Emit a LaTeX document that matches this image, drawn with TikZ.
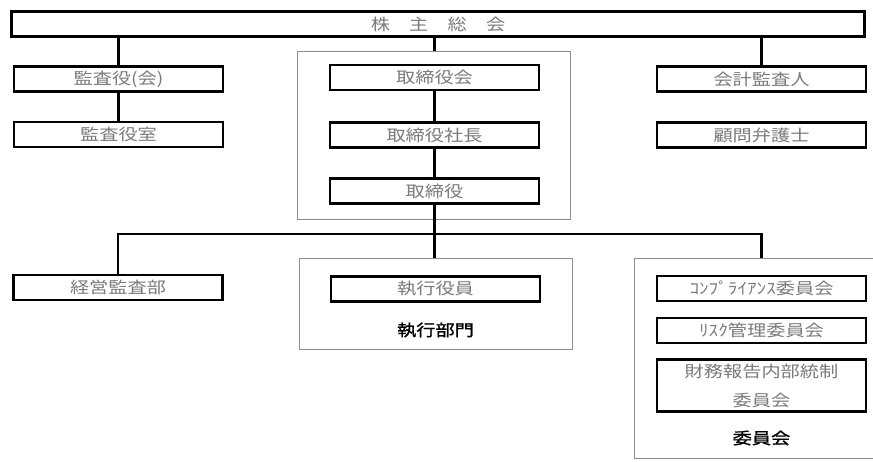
\documentclass[tikz,border=0pt]{standalone}
\usepackage{fontspec}
\newfontfamily\cjk[FakeStretch=1.2]{Noto Sans CJK JP}
\newfontfamily\cjkbold[FakeStretch=1.2,FakeBold=1.2]{Noto Sans CJK JP}
\tikzset{
  box/.style={draw=black, line width=2.6pt, fill=white, minimum width=209pt,
    minimum height=25pt, inner sep=0pt, text=black!52,
    font=\cjk\fontsize{16}{29}\selectfont},
  framebox/.style={draw=black!45, line width=0.8pt, inner sep=0pt},
  conn/.style={draw=black, line width=2.6pt},
  lbl/.style={text=black, inner sep=0pt, font=\cjkbold\fontsize{16}{20}\selectfont},
}
\begin{document}
\begin{tikzpicture}[x=1pt,y=-1pt]
\useasboundingbox (0,0) rectangle (873,461);
% frames
\node[framebox, minimum width=273pt, minimum height=168pt] (fyaku) at (433.5,135) {};
\node[framebox, minimum width=273pt, minimum height=91pt] (fshikko) at (435.5,303.5) {};
\coordinate (ctl) at (634,258);
\coordinate (ctr) at (873,258);
\coordinate (cbl) at (634,458);
\coordinate (cbr) at (873,458);
\draw[draw=black!45, line width=0.8pt] (ctr) -- (ctl) -- (cbl) -- (cbr);
% boxes
\node[box, minimum width=853pt] (kabu) at (438,24) {株　主　総　会};
\node[box] (kansa) at (118.5,79) {監査役(会)};
\node[box] (kansashitsu) at (118.5,134.5) {監査役室};
\node[box] (tkai) at (434.5,77.5) {取締役会};
\node[box] (shacho) at (434.5,135) {取締役社長};
\node[box] (tori) at (434.5,191) {取締役};
\node[box] (kaikei) at (761.5,79) {会計監査人};
\node[box] (komon) at (761.5,135) {顧問弁護士};
\node[box] (keiei) at (118,287.5) {経営監査部};
\node[box] (shikko) at (435.5,289) {執行役員};
\node[box] (comp) at (761.5,288.5) {ｺﾝﾌﾟﾗｲｱﾝｽ委員会};
\node[box] (risk) at (761.5,330.5) {ﾘｽｸ管理委員会};
\node[box, minimum height=52pt, align=center] (zaimu) at (761.5,385.5) {財務報告内部統制\\委員会};
% labels
\node[lbl] (lshikko) at (435.5,330) {執行部門};
\node[lbl] (liinkai) at (761.5,438) {委員会};
% connectors
\coordinate (bus) at (0,234);
\draw[conn] (kabu.south -| kansa.north) -- (kansa.north);
\draw[conn] (kansa) -- (kansashitsu);
\draw[conn] (kabu.south -| tkai.north) -- (fyaku.north -| tkai.north);
\draw[conn] (kabu.south -| kaikei.north) -- (kaikei.north);
\draw[conn] (tkai) -- (shacho);
\draw[conn] (shacho) -- (tori);
\draw[conn] (tori.south) -- (fshikko.north -| tori.south);
\draw[conn] (keiei.north) -- (bus -| keiei.north) -- (bus -| comp.north) -- (ctl -| comp.north);
\end{tikzpicture}
\end{document}
